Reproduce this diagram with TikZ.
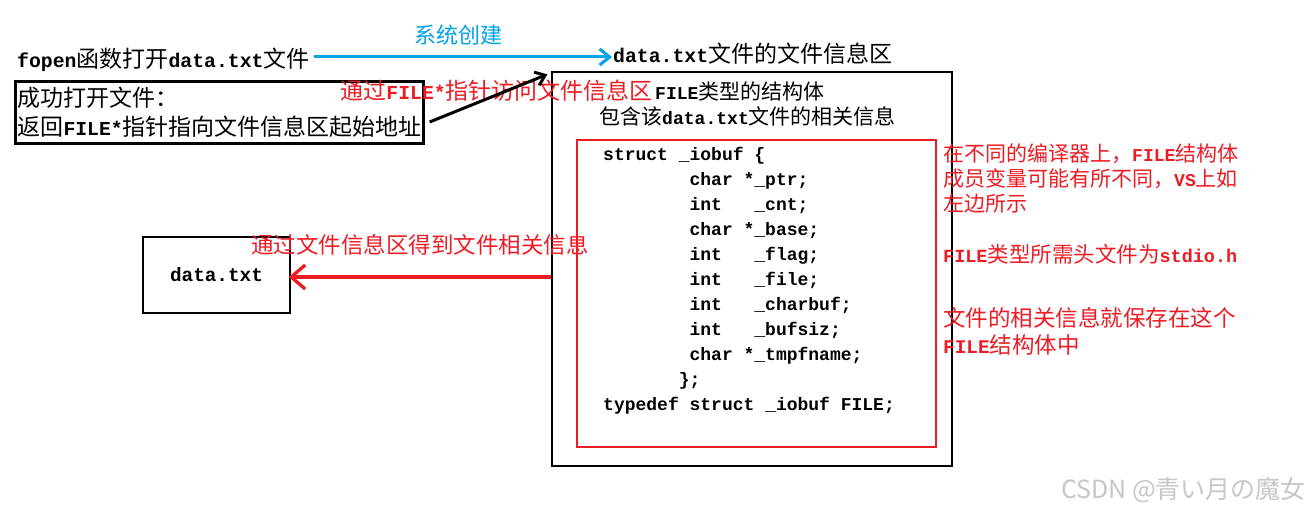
\documentclass[tikz,border=0pt]{standalone}
\usepackage{fontspec}
\setmainfont{Noto Sans CJK SC}
\newfontfamily\enfont[Scale=0.86]{Liberation Mono}
\newfontfamily\codefont{Liberation Mono}
\newfontfamily\wmfont{Noto Sans CJK JP}
\usetikzlibrary{arrows.meta,positioning}
\definecolor{paintred}{RGB}{237,28,36}
\definecolor{paintblue}{RGB}{0,162,232}
\newcommand{\en}[1]{{\enfont\bfseries #1}}

\begin{document}
\begin{tikzpicture}[x=1pt, y=-1pt,
  lbl/.style 2 args={inner sep=0pt, align=left, font=\fontsize{#1}{#2}\selectfont},
  okbox/.style={draw, line width=3.2pt, minimum width=408pt, minimum height=62pt, text width=404pt, inner xsep=2pt, inner ysep=0pt, align=left, font=\fontsize{23}{29}\selectfont},
  thinbox/.style={draw, line width=1.3pt, inner sep=0pt},
  code/.style={inner sep=0pt, font=\codefont\bfseries\fontsize{18}{25}\selectfont},
  arrow/.style={-{Straight Barb[length=10pt, width=16pt]}, line width=3pt}
]
  \useasboundingbox[fill=white] (0,0) rectangle (1313,511);

  % fopen -> file info area
  \node[lbl={23}{28}, anchor=west] (fopen) at (17,60) {\en{fopen}函数打开\en{data.txt}文件};
  \node[lbl={23}{28}, anchor=west] (info) at (613,54) {\en{data.txt}文件的文件信息区};
  \draw[arrow, paintblue] ([xshift=4pt,yshift=3pt]fopen.east) -- ([xshift=-1pt,yshift=-3pt]info.west)
    node[midway, above=10pt, xshift=-4pt, lbl={22}{26}, text=paintblue] (create) {系统创建};

  \node[okbox] (ok) at (219.5,112.5) {成功打开文件：\\返回\en{FILE*}指针指向文件信息区起始地址};

  % file info area
  \node[thinbox, minimum width=400pt, minimum height=394pt] (filebox) at (752,269) {};
  \node[thinbox, draw=paintred, minimum width=359pt, minimum height=307pt] (redbox) at (756.5,293.5) {};

  \node[lbl={21}{25}, anchor=west] (ftype) at (655,91) {\en{FILE}类型的结构体};
  \node[lbl={23}{28}, text=paintred, left=2pt of ftype] (access) {通过\en{FILE*}指针访问文件信息区};
  \node[lbl={21}{25}, anchor=west] (contains) at (599,116) {包含该\en{data.txt}文件的相关信息};

  \draw[arrow, -{Straight Barb[length=9pt, width=14pt]}] ([xshift=4.5pt,yshift=-9.5pt]ok.east) -- ([xshift=-4pt,yshift=-3pt]filebox.north west);

  % struct body
  \foreach \ln [count=\i] in {
    struct~\_iobuf~\{,
    ~~~~~~~~char~*\_ptr;,
    ~~~~~~~~int~~~\_cnt;,
    ~~~~~~~~char~*\_base;,
    ~~~~~~~~int~~~\_flag;,
    ~~~~~~~~int~~~\_file;,
    ~~~~~~~~int~~~\_charbuf;,
    ~~~~~~~~int~~~\_bufsiz;,
    ~~~~~~~~char~*\_tmpfname;,
    ~~~~~~~\};,
    typedef~struct~\_iobuf~FILE;}
    \node[code, anchor=base west] (c\i) at (603,135+25*\i) {\ln};

  % notes on the right
  \node[lbl={21}{25}, anchor=west, text=paintred] (note1) at (943,178) {在不同的编译器上，\en{FILE}结构体\\成员变量可能有所不同，\en{VS}上如\\左边所示};
  \node[lbl={21.5}{25}, anchor=west, text=paintred] (note2) at (943,254) {\en{FILE}类型所需头文件为\en{stdio.h}};
  \node[lbl={22.5}{27}, anchor=west, text=paintred] (note3) at (943,331.5) {文件的相关信息就保存在这个\\\en{FILE}结构体中};

  % back to data.txt
  \node[thinbox, minimum width=147pt, minimum height=76pt, font=\fontsize{22.5}{27}\selectfont] (dtxt) at (216.5,275) {\en{data.txt}};
  \node[lbl={22.5}{27}, anchor=west, text=paintred] (getinfo) at (251,245) {通过文件信息区得到文件相关信息};
  \draw[arrow, paintred, line width=3.3pt, -{Straight Barb[length=14pt, width=24pt]}] ([yshift=-8pt]filebox.west) -- ([xshift=-2pt,yshift=-2pt]dtxt.east);

  \node[inner sep=0pt, anchor=east, text=black!22, font=\wmfont\fontsize{25}{25}\selectfont] (wm) at (1306,490) {CSDN @青い月の魔女};
\end{tikzpicture}
\end{document}
